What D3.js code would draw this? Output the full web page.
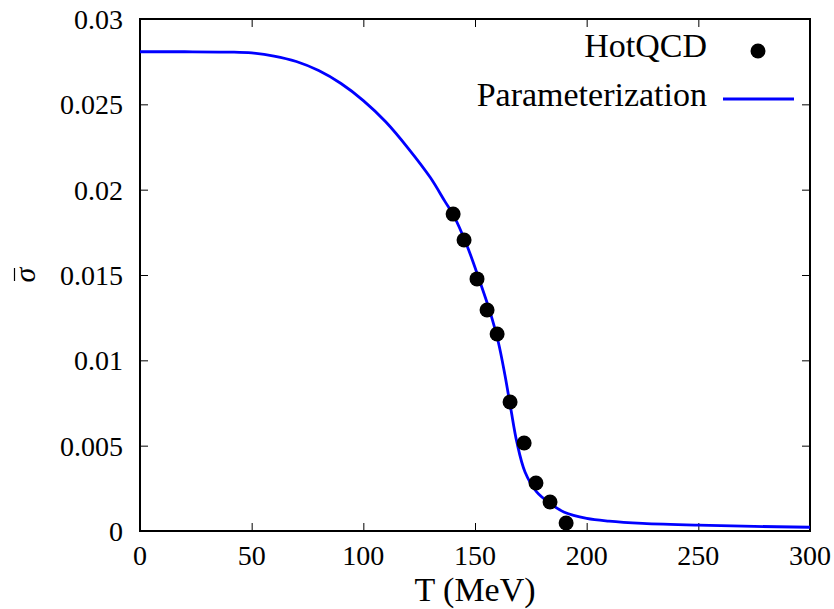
<!DOCTYPE html>
<html>
<head>
<meta charset="utf-8">
<script src="https://cdn.jsdelivr.net/npm/d3@7"></script>
<style>
  body { margin: 0; background: #fff; }
  svg text { font-family: "Liberation Serif", "Times New Roman", serif; fill: #000; }
</style>
</head>
<body>
<script>
'use strict';

// HotQCD lattice points (T in MeV, sigma bar)
const hotT = [140.2, 145.1, 150.9, 155.4, 159.9, 165.7, 172.0, 177.3, 183.6, 190.8];
const hotSigma = [0.01857, 0.01705, 0.01477, 0.01295, 0.01154, 0.00756, 0.00516, 0.00281, 0.00170, 0.00047];

// parameterization curve
const parT = [0, 20, 40, 50, 60, 70, 80, 90, 100, 110, 120, 130, 136.6, 140.3, 146.3, 152.2, 156.7, 160.4, 163.4, 166.0, 168.7, 172.4, 177.6, 183.6, 190, 200, 210, 225, 250, 275, 300];
const parSigma = [0.02808, 0.02808, 0.02806, 0.02801, 0.02783, 0.02751, 0.02698, 0.02622, 0.02522, 0.02398, 0.02244, 0.02071, 0.01930, 0.01852, 0.01676, 0.01461, 0.01285, 0.01109, 0.00914, 0.00719, 0.00523, 0.00346, 0.00229, 0.00162, 0.00110, 0.00074, 0.00058, 0.00045, 0.00034, 0.00027, 0.00022];

const xTicks = [0, 50, 100, 150, 200, 250, 300];
const yTicks = [0, 0.005, 0.01, 0.015, 0.02, 0.025, 0.03];
const yTickLabels = ['0', '0.005', '0.01', '0.015', '0.02', '0.025', '0.03'];

const width = 834, height = 609;
const margin = {left: 140, right: 24, top: 19, bottom: 78};

const x = d3.scaleLinear().domain([0, 300]).range([margin.left, width - margin.right]);
const y = d3.scaleLinear().domain([0, 0.03]).range([height - margin.bottom, margin.top]);

const svg = d3.select('body').append('svg')
    .attr('width', width)
    .attr('height', height)
    .attr('viewBox', [0, 0, width, height]);

svg.append('clipPath').attr('id', 'plot-clip')
  .append('rect')
    .attr('x', x(0)).attr('y', y(0.03))
    .attr('width', x(300) - x(0)).attr('height', y(0) - y(0.03));

// inward ticks on all four sides, labels drawn separately below
const axes = [
  svg.append('g').attr('transform', `translate(0,${y(0)})`)
    .call(d3.axisBottom(x).tickValues(xTicks.slice(1, -1)).tickSize(-8).tickFormat('')),
  svg.append('g').attr('transform', `translate(0,${y(0.03)})`)
    .call(d3.axisTop(x).tickValues(xTicks.slice(1, -1)).tickSize(-8).tickFormat('')),
  svg.append('g').attr('transform', `translate(${x(0)},0)`)
    .call(d3.axisLeft(y).tickValues(yTicks.slice(1, -1)).tickSize(-8).tickFormat('')),
  svg.append('g').attr('transform', `translate(${x(300)},0)`)
    .call(d3.axisRight(y).tickValues(yTicks.slice(1, -1)).tickSize(-8).tickFormat(''))
];
axes.forEach(g => {
  g.select('.domain').remove();
  g.selectAll('.tick line').attr('stroke', '#000').attr('stroke-width', 1);
});

svg.append('g').selectAll('text')
  .data(xTicks)
  .join('text')
    .attr('x', d => x(d))
    .attr('y', y(0) + 34)
    .attr('text-anchor', 'middle')
    .attr('font-size', 28)
    .text(d => d);

svg.append('g').selectAll('text')
  .data(yTicks)
  .join('text')
    .attr('x', x(0) - 17)
    .attr('y', d => y(d) + 10)
    .attr('text-anchor', 'end')
    .attr('font-size', 28)
    .text((d, i) => yTickLabels[i]);

// frame
svg.append('rect')
    .attr('x', x(0)).attr('y', y(0.03))
    .attr('width', x(300) - x(0)).attr('height', y(0) - y(0.03))
    .attr('fill', 'none').attr('stroke', '#000').attr('stroke-width', 2);

// curve
const line = d3.line()
    .x((d, i) => x(parT[i]))
    .y(d => y(d))
    .curve(d3.curveCatmullRom.alpha(0.5));
svg.append('path')
    .attr('clip-path', 'url(#plot-clip)')
    .attr('d', line(parSigma))
    .attr('fill', 'none')
    .attr('stroke', '#0000ff')
    .attr('stroke-width', 2.8);

// data points
svg.append('g').selectAll('circle')
  .data(hotSigma)
  .join('circle')
    .attr('cx', (d, i) => x(hotT[i]))
    .attr('cy', d => y(d))
    .attr('r', 7.5)
    .attr('fill', '#000');

// legend
const legend = svg.append('g').attr('font-size', 34);
legend.append('text')
    .attr('x', 707).attr('y', 57)
    .attr('text-anchor', 'end')
    .text('HotQCD');
legend.append('circle')
    .attr('cx', 758).attr('cy', 51).attr('r', 7.5).attr('fill', '#000');
legend.append('text')
    .attr('x', 707).attr('y', 106)
    .attr('text-anchor', 'end')
    .text('Parameterization');
legend.append('line')
    .attr('x1', 723).attr('x2', 794).attr('y1', 99).attr('y2', 99)
    .attr('stroke', '#0000ff').attr('stroke-width', 2.8);

// axis titles
svg.append('text')
    .attr('x', (x(0) + x(300)) / 2).attr('y', 601)
    .attr('text-anchor', 'middle')
    .attr('font-size', 34)
    .text('T (MeV)');
const ylab = svg.append('g')
    .attr('transform', `translate(35,${(y(0) + y(0.03)) / 2}) rotate(-90)`);
ylab.append('text')
    .attr('text-anchor', 'middle')
    .attr('font-style', 'italic')
    .attr('font-size', 30)
    .text('σ');
ylab.append('line')
    .attr('x1', -6).attr('x2', 7).attr('y1', -20.5).attr('y2', -20.5)
    .attr('stroke', '#000').attr('stroke-width', 1.2);
</script>
</body>
</html>
